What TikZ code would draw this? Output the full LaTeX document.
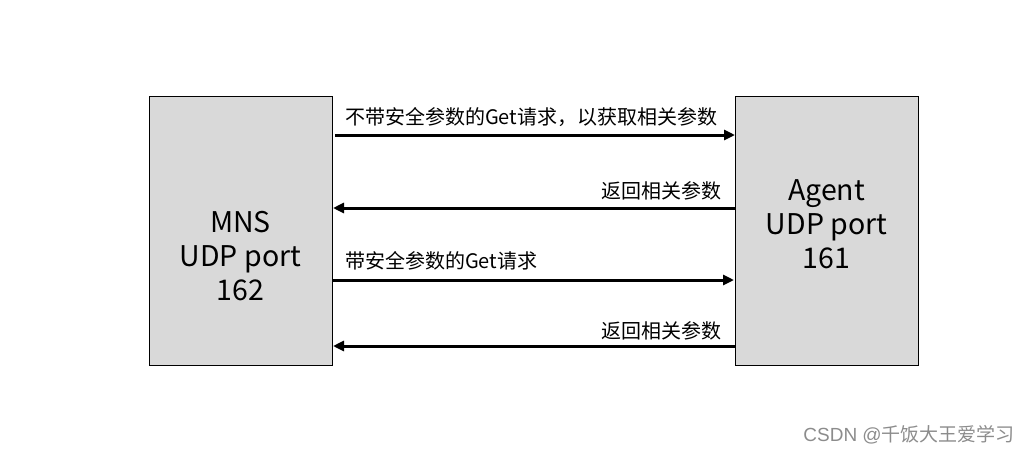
\documentclass[tikz,border=0pt]{standalone}
\usepackage{fontspec}
\setmainfont{Noto Sans CJK SC}
\newfontfamily\wmlatin{Liberation Sans}
\usetikzlibrary{arrows.meta}
\definecolor{boxgray}{HTML}{D9D9D9}
\tikzset{
  hostbox/.style={draw=black, line width=1pt, fill=boxgray, minimum width=183pt, minimum height=269pt, inner sep=0pt},
  hosttext/.style={inner sep=0pt, align=center, font=\fontsize{28.5}{34}\selectfont},
  msg/.style={line width=3pt, -{Triangle[length=11pt,width=10pt]}},
  lbl/.style={inner sep=0pt, font=\fontsize{20}{22}\selectfont},
  wm/.style={inner sep=0pt, text=black!45, font=\fontsize{19}{21}\selectfont}
}
\begin{document}
\begin{tikzpicture}[x=1pt,y=-1pt]
\useasboundingbox (0,0) rectangle (1028,453);
\node[hostbox] (mns) at (240.5,230.5) {};
\node[hostbox] (agent) at (826.5,230.5) {};
\node[hosttext] (mnst) at (240.5,256) {MNS\\UDP port\\162};
\node[hosttext] (agentt) at (826.5,224.5) {Agent\\UDP port\\161};
\coordinate (a1s) at (335,135); \coordinate (a1e) at (735,135);
\coordinate (a2s) at (735,208); \coordinate (a2e) at (333,208);
\coordinate (a3s) at (333,280); \coordinate (a3e) at (734,280);
\coordinate (a4s) at (735,346); \coordinate (a4e) at (333,346);
\draw[msg] (a1s) -- (a1e);
\draw[msg] (a2s) -- (a2e);
\draw[msg] (a3s) -- (a3e);
\draw[msg] (a4s) -- (a4e);
\node[lbl, anchor=west] (l1) at (345,117) {不带安全参数的Get请求，以获取相关参数};
\node[lbl, anchor=east] (l2) at (722,191) {返回相关参数};
\node[lbl, anchor=west] (l3) at (345,261) {带安全参数的Get请求};
\node[lbl, anchor=east] (l4) at (722,331) {返回相关参数};
\node[wm, anchor=east] (w) at (1015,435) {{\wmlatin CSDN @}千饭大王爱学习};
\end{tikzpicture}
\end{document}
